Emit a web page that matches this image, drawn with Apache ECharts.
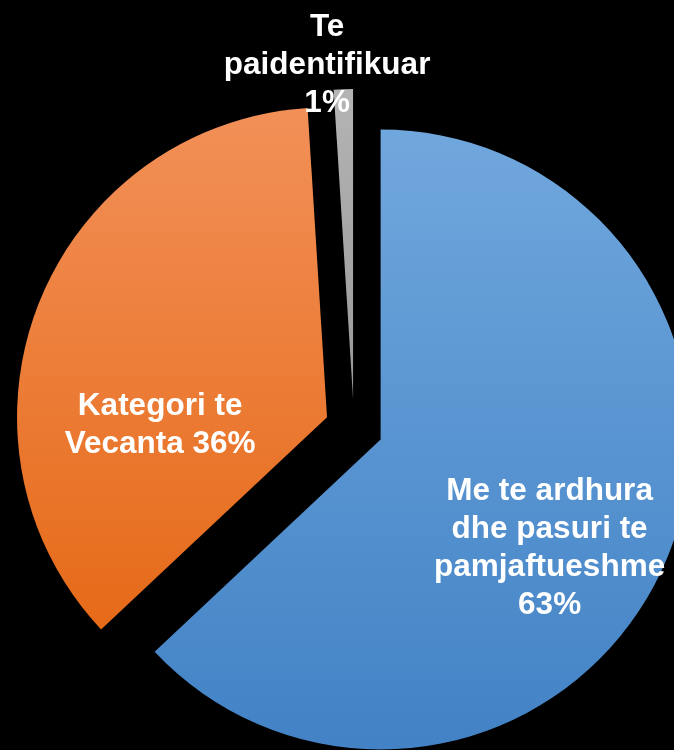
<!DOCTYPE html>
<html>
<head>
<meta charset="utf-8">
<script src="https://cdn.jsdelivr.net/npm/echarts@6/dist/echarts.min.js"></script>
<style>
  html, body { margin: 0; padding: 0; background: #000; }
  #main { width: 674px; height: 750px; }
</style>
</head>
<body>
<div id="main"></div>
<script>
// data
let categories = ['Me te ardhura\ndhe pasuri te\npamjaftueshme', 'Kategori te\nVecanta', 'Te\npaidentifikuar'];
let values = [63, 36, 1];
let labelJoin = ['\n', ' ', '\n'];   // how the % sits after the name
let colorTop = ['#70a7dd', '#f29058', '#b4b4b4'];
let colorBottom = ['#4282c5', '#e66a18', '#999999'];
// nudge each label away from the slice middle, like the original
let labelShift = [[24, 46], [-20, 66], [-21, -176]];

let chartDom = document.getElementById('main');
let myChart = echarts.init(chartDom);

let pieData = categories.map(function (name, i) {
    return {
        name: name,
        value: values[i],
        selected: true,
        itemStyle: {
            color: new echarts.graphic.LinearGradient(0, 0, 0, 1, [
                {offset: 0, color: colorTop[i]},
                {offset: 1, color: colorBottom[i]}
            ])
        },
        label: {
            formatter: function (p) {
                return p.name + labelJoin[i] + p.value + '%';
            }
        }
    };
});

let option = {
    backgroundColor: '#000',
    animation: false,
    series: [
        {
            type: 'pie',
            center: [354, 428],
            radius: [0, 310],
            startAngle: 90,
            clockwise: true,
            selectedMode: 'multiple',
            selectedOffset: 29,
            data: pieData,
            label: {
                show: true,
                position: 'inside',
                color: '#fff',
                fontFamily: 'Liberation Sans',
                fontWeight: 'bold',
                fontSize: 31.5,
                lineHeight: 38,
                align: 'center'
            },
            labelLayout: function (p) {
                return {dx: labelShift[p.dataIndex][0], dy: labelShift[p.dataIndex][1]};
            },
            labelLine: {show: false},
            emphasis: {disabled: true}
        }
    ]
};
myChart.setOption(option);
</script>
</body>
</html>
